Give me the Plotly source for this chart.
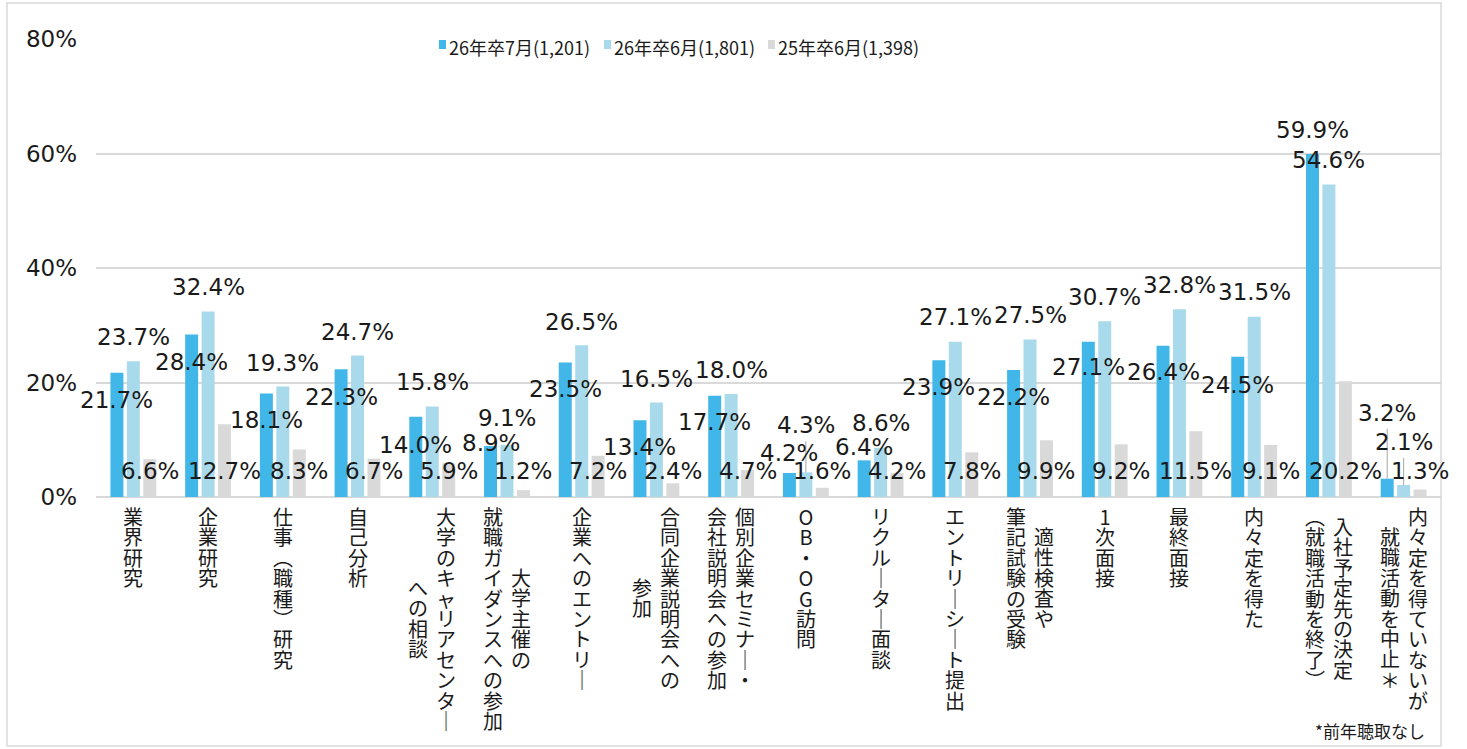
import plotly.graph_objects as go

# ---------------- data ----------------
categories = [
    "業界研究",
    "企業研究",
    "仕事(職種)研究",
    "自己分析",
    "大学のキャリアセンター\nへの相談",
    "大学主催の\n就職ガイダンスへの参加",
    "企業へのエントリー",
    "合同企業説明会への\n参加",
    "個別企業セミナー・\n会社説明会への参加",
    "OB・OG訪問",
    "リクルーター面談",
    "エントリーシート提出",
    "適性検査や\n筆記試験の受験",
    "1次面接",
    "最終面接",
    "内々定を得た",
    "入社予定先の決定\n（就職活動を終了）",
    "内々定を得ていないが\n就職活動を中止＊",
]
series_names = ["26年卒7月(1,201)", "26年卒6月(1,801)", "25年卒6月(1,398)"]
jul26 = [21.7, 28.4, 18.1, 22.3, 14.0, 8.9, 23.5, 13.4, 17.7, 4.2, 6.4, 23.9, 22.2, 27.1, 26.4, 24.5, 59.9, 3.2]
jun26 = [23.7, 32.4, 19.3, 24.7, 15.8, 9.1, 26.5, 16.5, 18.0, 4.3, 8.6, 27.1, 27.5, 30.7, 32.8, 31.5, 54.6, 2.1]
jun25 = [6.6, 12.7, 8.3, 6.7, 5.9, 1.2, 7.2, 2.4, 4.7, 1.6, 4.2, 7.8, 9.9, 9.2, 11.5, 9.1, 20.2, 1.3]
y_ticks = [0, 20, 40, 60, 80]
footnote = "*前年聴取なし"

# ---------------- style ----------------
COLORS = ["#40b7e8", "#a9daec", "#d9d9d9"]
GRID = "#d9d9d9"
TXT = "#1a1a1a"
NUM_FONT = "DejaVu Sans, Noto Sans CJK JP"
JP_FONT = "Noto Sans CJK JP"
NUM_FS = 23
W, H = 1467, 749
ML, MR, MT, MB = 96, 26, 39, 252
PLOT_W = W - ML - MR
PLOT_H = H - MT - MB
Y_MAX = 80
PX_PER_UNIT = PLOT_H / Y_MAX
BARGAP = 0.34
BARGROUPGAP = 0.21
SLOT = (1 - BARGAP) / 3


def px_x(px):
    """page pixel x -> paper x"""
    return (px - ML) / PLOT_W


def px_y(px):
    """page pixel y -> paper y"""
    return (MT + PLOT_H - px) / PLOT_H


# label vertical shifts in px (positive = up), per series
s1_shift = [-27, -28, -27, -28, -28, 3, -27, -27, -26, 20, 13, -27, -27, -25, -26, -28, 24, 66]
s2_shift = [24, 25, 24, 24, 25, 27, 23, 24, 24, 47, 25, 25, 25, 24, 24, 25, 24, 43]
s3_base_shift = 26  # labels of the 3rd series sit on a common baseline
leaders = [(0, 17), (1, 9), (1, 17)]  # (series, category) with leader lines

flat_names = [c.replace("\n", "") for c in categories]
series_vals = [jul26, jun26, jun25]

fig = go.Figure()
for k in range(3):
    fig.add_trace(go.Bar(
        x=flat_names, y=series_vals[k], name=series_names[k],
        marker=dict(color=COLORS[k], line=dict(width=0)),
        hoverinfo="y+name", showlegend=False,
    ))

annotations = []
shapes = []

# data labels
for k in range(3):
    for i, v in enumerate(series_vals[k]):
        xpos = i + (k - 1) * SLOT
        if k == 0:
            y, ys = v, s1_shift[i]
        elif k == 1:
            y, ys = v, s2_shift[i]
        else:
            y, ys = 0, s3_base_shift
        annotations.append(dict(
            x=xpos, y=y, xref="x", yref="y", text=f"{v:.1f}%",
            showarrow=False, xanchor="center", yanchor="middle", yshift=ys,
            font=dict(family=NUM_FONT, size=NUM_FS, color=TXT),
        ))

# leader lines
for k, i in leaders:
    v = series_vals[k][i]
    ys = (s1_shift if k == 0 else s2_shift)[i]
    xpos = i + (k - 1) * SLOT
    shapes.append(dict(
        type="line", xref="x", yref="y", x0=xpos, x1=xpos,
        y0=v, y1=v + (ys - 16) / PX_PER_UNIT,
        line=dict(color="#a6a6a6", width=1),
    ))

# vertical (tategaki) category labels: one text per column, one glyph per line
FS_CAT = 20            # glyph size
PITCH = 20.4           # vertical advance per glyph
BASE_FS = PITCH / 1.3  # plotly line spacing is 1.3em of the base font
TOP_GAP = 4
COL_SEP = 28
VERT = {"ー": "｜", "(": "︵", ")": "︶", "（": "︵", "）": "︶"}


def vertical_text(s):
    return "<br>".join(
        f"<span style='font-size:{FS_CAT}px'>{VERT.get(c, c)}</span>" for c in s
    )


for i, cat in enumerate(categories):
    lines = cat.split("\n")
    n = len(lines)
    block = max(len(ln) for ln in lines)
    for j, ln in enumerate(lines):
        xs = ((n - 1) / 2 - j) * COL_SEP
        off = TOP_GAP + (block - len(ln)) / 2 * PITCH
        annotations.append(dict(
            x=i, y=0, xref="x", yref="y", text=vertical_text(ln),
            showarrow=False, xanchor="center", yanchor="top", align="center",
            xshift=xs, yshift=-off, borderpad=0,
            font=dict(family=JP_FONT, size=BASE_FS, color=TXT),
        ))

# footnote
annotations.append(dict(
    x=px_x(1427), y=px_y(730),
    xref="paper", yref="paper", text=footnote, showarrow=False,
    xanchor="right", yanchor="middle",
    font=dict(family=JP_FONT, size=17, color=TXT),
))

# legend (drawn as marker squares + texts)
LEG_MARK_X = [439, 604, 768]
for k in range(3):
    x0 = LEG_MARK_X[k]
    shapes.append(dict(
        type="rect", xref="paper", yref="paper",
        x0=px_x(x0), x1=px_x(x0 + 7), y0=px_y(49), y1=px_y(40),
        line=dict(width=0), fillcolor=COLORS[k],
    ))
    annotations.append(dict(
        x=px_x(x0 + 9), y=px_y(47), xref="paper", yref="paper",
        text=series_names[k], showarrow=False, xanchor="left", yanchor="middle",
        bgcolor="white", borderpad=0,
        font=dict(family=JP_FONT, size=18, color=TXT),
    ))

# outer frame
shapes.append(dict(
    type="rect", xref="paper", yref="paper", layer="below",
    x0=px_x(7), x1=px_x(1441), y0=px_y(746), y1=px_y(3),
    line=dict(color=GRID, width=1.5), fillcolor="rgba(0,0,0,0)",
))

fig.update_layout(
    width=W, height=H,
    margin=dict(l=ML, r=MR, t=MT, b=MB, pad=0),
    paper_bgcolor="white", plot_bgcolor="white",
    barmode="group", bargap=BARGAP, bargroupgap=BARGROUPGAP,
    showlegend=False,
    xaxis=dict(
        range=[-0.5, len(categories) - 0.5], showticklabels=False,
        showgrid=False, zeroline=False, showline=False, ticks="",
    ),
    yaxis=dict(
        range=[0, Y_MAX], tickvals=y_ticks, ticktext=[f"{t}%" for t in y_ticks],
        showgrid=True, gridcolor=GRID, gridwidth=1.5,
        zeroline=True, zerolinecolor=GRID, zerolinewidth=1.5,
        showline=False, ticks="", ticklabelstandoff=18,
        tickfont=dict(family=NUM_FONT, size=NUM_FS, color=TXT),
    ),
    annotations=annotations,
    shapes=shapes,
)

fig.write_html(
    "out.html",
    config={"displayModeBar": False},
    post_script="document.body.style.margin='0';",
)
